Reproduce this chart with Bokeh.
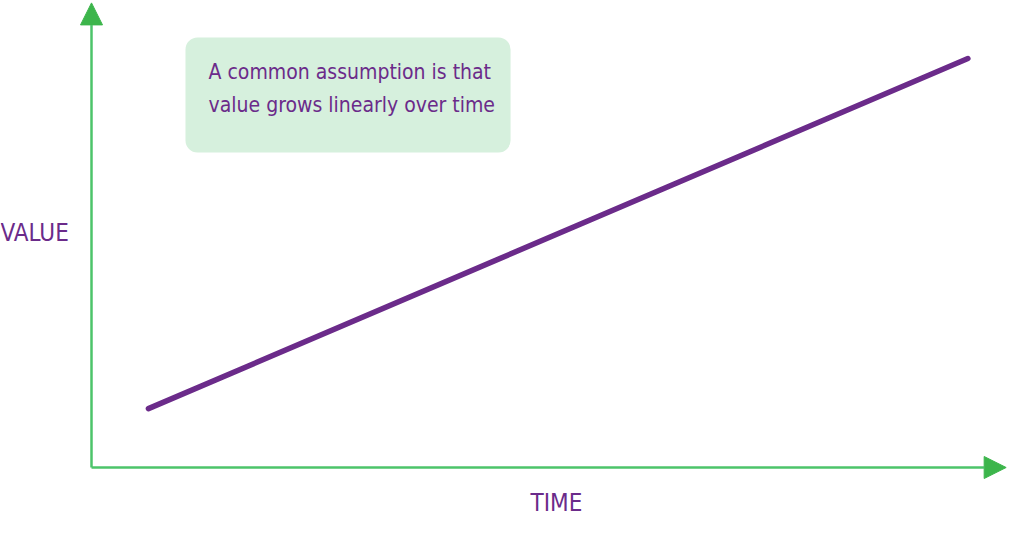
from bokeh.plotting import figure
from bokeh.models import Range1d, Arrow, NormalHead
from bokeh.embed import file_html
from bokeh.resources import INLINE
from bokeh.core.properties import value

# the assumed straight-line growth (abstract units)
time = [0.61, 9.39]
growth = [1.28, 8.89]

axis_labels = ["VALUE", "TIME"]
note_lines = ["A common assumption is that", "value grows linearly over time"]

FONT = "'DejaVu Sans Condensed', sans-serif"
GREEN = "#4cc46a"
GREEN_HEAD = "#3cb54b"
PURPLE = "#6b2b8a"

p = figure(width=1008, height=520,
           x_range=Range1d(-0.975, 9.825), y_range=Range1d(-1.152, 10.152),
           output_backend="svg", toolbar_location=None,
           min_border=0, outline_line_color=None)
p.axis.visible = False
p.grid.visible = False

# note box
p.quad(left=[1.007], right=[4.49], bottom=[6.85], top=[9.35],
       fill_color="#d6f0dd", line_color=None, border_radius=12)
p.text(x=[1.254, 1.254], y=[8.6, 7.88], text=note_lines,
       text_font=value(FONT), text_font_size="21px", text_color=PURPLE,
       text_baseline="middle")

# axes with arrow heads
p.add_layout(Arrow(x_start=0, y_start=0, x_end=0, y_end=10.1,
                   line_color=GREEN, line_width=2.5,
                   end=NormalHead(size=22, fill_color=GREEN_HEAD, line_color=GREEN_HEAD)))
p.add_layout(Arrow(x_start=0, y_start=0, x_end=9.8, y_end=0,
                   line_color=GREEN, line_width=2.5,
                   end=NormalHead(size=22, fill_color=GREEN_HEAD, line_color=GREEN_HEAD)))

# the growth line
p.line(time, growth, line_color=PURPLE, line_width=5.5, line_cap="round")

# axis titles
p.text(x=[-0.975, 4.704], y=[5.1, -0.78], text=axis_labels,
       text_font=value(FONT), text_font_size="24px", text_color=PURPLE,
       text_baseline="middle")

open("out.html", "w").write(file_html(p, INLINE))
